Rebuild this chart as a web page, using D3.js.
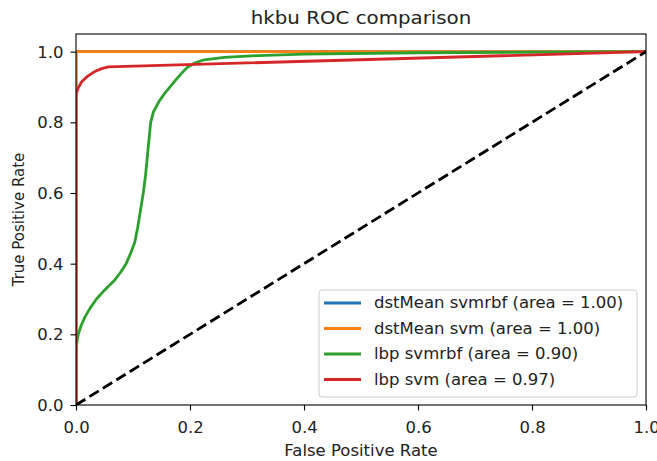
<!DOCTYPE html>
<html>
<head>
<meta charset="utf-8">
<script src="https://cdn.jsdelivr.net/npm/d3@7"></script>
<style>
  body { margin: 0; background: #fff; }
  text { font-family: "DejaVu Sans", sans-serif; fill: #222; }
</style>
</head>
<body>
<div id="chart"></div>
<script>
// ROC curves: [fpr, tpr]
var dstMeanSvmrbf = [[0, 0], [0, 1], [1, 1]];
var dstMeanSvm = [[0, 0], [0, 1], [1, 1]];
var lbpSvmrbf = [[0, 0], [0, 0.165], [0.004, 0.2], [0.009, 0.225], [0.016, 0.25], [0.025, 0.275],
  [0.036, 0.3], [0.05, 0.325], [0.066, 0.35], [0.078, 0.375], [0.088, 0.4], [0.096, 0.43],
  [0.103, 0.46], [0.108, 0.5], [0.113, 0.55], [0.118, 0.6], [0.122, 0.65], [0.125, 0.7],
  [0.128, 0.75], [0.131, 0.8], [0.136, 0.83], [0.146, 0.86], [0.157, 0.885], [0.17, 0.91],
  [0.183, 0.935], [0.195, 0.955], [0.208, 0.968], [0.225, 0.977], [0.26, 0.984], [0.32, 0.989],
  [0.4, 0.993], [0.6, 0.997], [1, 1]];
var lbpSvm = [[0, 0], [0, 0.88], [0.004, 0.898], [0.01, 0.915], [0.02, 0.93], [0.032, 0.943],
  [0.045, 0.952], [0.057, 0.957], [1, 1]];
var chance = [[0, 0], [1, 1]];

var seriesNames = ["dstMean svmrbf (area = 1.00)", "dstMean svm (area = 1.00)",
                   "lbp svmrbf (area = 0.90)", "lbp svm (area = 0.97)"];
var seriesColors = ["#1f77b4", "#ff7f0e", "#2ca02c", "#d62728"];
var xTicks = [0, 0.2, 0.4, 0.6, 0.8, 1.0];
var yTicks = [0, 0.2, 0.4, 0.6, 0.8, 1.0];

var W = 657, H = 461;
var margin = { top: 34, right: 11, bottom: 56, left: 76 },
    width = W - margin.left - margin.right,
    height = H - margin.top - margin.bottom;
var stretch = 1.1; // the picture's text is a little wider than it is tall

var svg = d3.select("#chart").append("svg")
  .attr("width", W).attr("height", H);

var g = svg.append("g")
  .attr("transform", "translate(" + margin.left + "," + margin.top + ")");

var x = d3.scaleLinear().domain([0, 1]).range([0, width]);
var y = d3.scaleLinear().domain([0, 1.05]).range([height, 0]);

g.append("clipPath").attr("id", "clip")
  .append("rect").attr("width", width).attr("height", height);

var line = d3.line()
  .x(function(d) { return x(d[0]); })
  .y(function(d) { return y(d[1]); });

var plot = g.append("g").attr("clip-path", "url(#clip)");
var allSeries = [dstMeanSvmrbf, dstMeanSvm, lbpSvmrbf, lbpSvm];
allSeries.forEach(function(s, i) {
  plot.append("path")
    .datum(s)
    .attr("d", line)
    .attr("fill", "none")
    .attr("stroke", seriesColors[i])
    .attr("stroke-width", 2.8)
    .attr("stroke-linejoin", "round");
});
plot.append("path")
  .datum(chance)
  .attr("d", line)
  .attr("fill", "none")
  .attr("stroke", "#000")
  .attr("stroke-width", 2.8)
  .attr("stroke-dasharray", "11,4.8");

// axes
var xAxis = g.append("g")
  .attr("transform", "translate(0," + height + ")")
  .call(d3.axisBottom(x).tickValues(xTicks).tickFormat(d3.format(".1f")).tickSizeInner(5.5).tickSizeOuter(0));
var yAxis = g.append("g")
  .call(d3.axisLeft(y).tickValues(yTicks).tickFormat(d3.format(".1f")).tickSizeInner(5.5).tickSizeOuter(0));
[xAxis, yAxis].forEach(function(a) {
  a.select(".domain").remove();
  a.selectAll("line").attr("stroke", "#000").attr("stroke-width", 1.1);
  a.selectAll("text").style("font-size", "15px").style("fill", "#222");
});
xAxis.selectAll("text").attr("y", 28).attr("dy", 0);
yAxis.selectAll("text").attr("x", -12.5).attr("dy", "0.36em");

// frame
g.append("rect")
  .attr("width", width).attr("height", height)
  .attr("fill", "none").attr("stroke", "#000").attr("stroke-width", 1.1);

// labels
svg.append("text")
  .attr("x", margin.left + width / 2).attr("y", 24)
  .attr("text-anchor", "middle").style("font-size", "18px")
  .text("hkbu ROC comparison");
svg.append("text")
  .attr("x", margin.left + width / 2).attr("y", 456)
  .attr("text-anchor", "middle").style("font-size", "15px")
  .text("False Positive Rate");
svg.append("text")
  .attr("transform", "translate(24," + (margin.top + height / 2) + ") rotate(-90)")
  .attr("text-anchor", "middle").style("font-size", "15px")
  .attr("class", "vertical")
  .text("True Positive Rate");

// legend
var lg = svg.append("g").attr("transform", "translate(319,290)");
lg.append("rect")
  .attr("width", 318).attr("height", 107).attr("rx", 3)
  .attr("fill", "#fff").attr("fill-opacity", 0.8)
  .attr("stroke", "#ccc").attr("stroke-width", 1);
seriesNames.forEach(function(name, i) {
  var row = lg.append("g").attr("transform", "translate(0," + (13 + i * 25.5) + ")");
  row.append("line")
    .attr("x1", 5).attr("x2", 42).attr("y1", 0).attr("y2", 0)
    .attr("stroke", seriesColors[i]).attr("stroke-width", 2.8);
  row.append("text")
    .attr("x", 55).attr("y", 0).attr("dy", "0.35em")
    .style("font-size", "15px")
    .text(name);
});

// widen the horizontal texts, keep the rotated label as drawn
svg.selectAll("text").each(function() {
  var t = d3.select(this);
  if (t.classed("vertical")) return;
  var len = this.getComputedTextLength();
  t.attr("textLength", len * stretch).attr("lengthAdjust", "spacingAndGlyphs");
});
</script>
</body>
</html>
